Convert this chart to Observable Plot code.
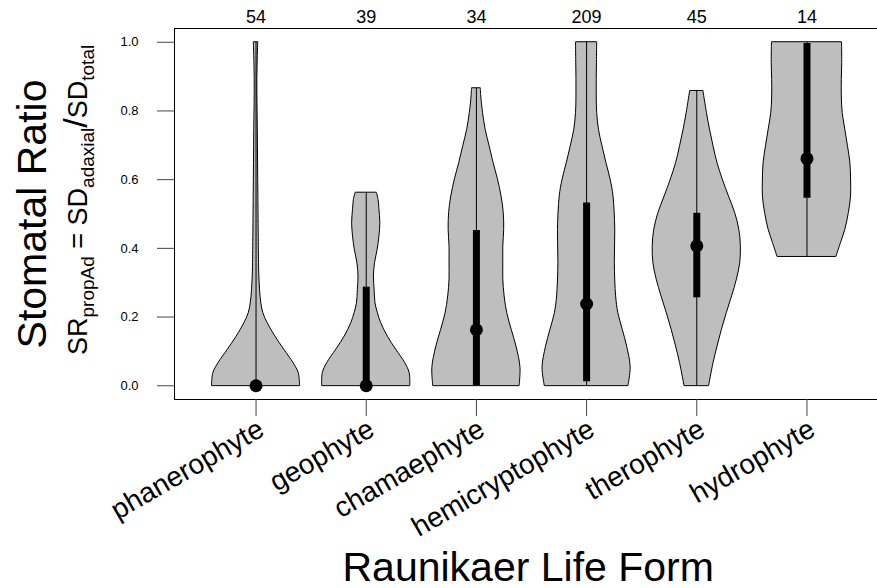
<!DOCTYPE html>
<html>
<head>
<meta charset="utf-8">
<script src="https://cdn.jsdelivr.net/npm/d3@7"></script>
<script src="https://cdn.jsdelivr.net/npm/@observablehq/plot@0.6"></script>
<style>
  html, body { margin: 0; padding: 0; background: white; }
  #chart { width: 877px; height: 588px; }
</style>
</head>
<body>
<div id="chart"></div>
<script>
// ---- data ----
const categories = ["phanerophyte", "geophyte", "chamaephyte", "hemicryptophyte", "therophyte", "hydrophyte"];
const counts = [54, 39, 34, 209, 45, 14];
const medians = [0, 0, 0.163, 0.238, 0.407, 0.661];
const q1 = [0, 0, 0, 0.012, 0.256, 0.546];
const q3 = [0, 0.287, 0.452, 0.532, 0.502, 0.996];
const mins = [0, 0, 0, 0, 0, 0.376];
const maxs = [1.0, 0.562, 0.866, 1.0, 0.858, 1.0];
const yTicks = [0, 0.2, 0.4, 0.6, 0.8, 1.0];

// density profiles: [value, relative half-width]
const phanerophyteDensity = [[0, 1.0], [0.037, 0.968], [0.066, 0.85], [0.105, 0.64], [0.143, 0.44], [0.182, 0.265], [0.211, 0.166], [0.24, 0.12], [0.279, 0.09], [0.318, 0.075], [0.357, 0.068], [0.55, 0.053], [0.745, 0.04], [0.89, 0.03], [1.0, 0.05]];
const geophyteDensity = [[0, 1.0], [0.037, 0.985], [0.066, 0.885], [0.105, 0.68], [0.143, 0.49], [0.182, 0.34], [0.211, 0.265], [0.24, 0.21], [0.279, 0.19], [0.318, 0.175], [0.357, 0.2], [0.396, 0.26], [0.435, 0.30], [0.474, 0.32], [0.512, 0.30], [0.541, 0.28], [0.562, 0.24]];
const chamaephyteDensity = [[0, 0.98], [0.052, 1.0], [0.114, 0.91], [0.163, 0.80], [0.211, 0.70], [0.26, 0.64], [0.309, 0.61], [0.357, 0.61], [0.406, 0.61], [0.454, 0.63], [0.503, 0.62], [0.551, 0.57], [0.60, 0.49], [0.648, 0.39], [0.697, 0.30], [0.745, 0.21], [0.794, 0.15], [0.842, 0.11], [0.866, 0.10]];
const hemicryptophyteDensity = [[0, 0.95], [0.053, 1.0], [0.114, 0.92], [0.163, 0.82], [0.211, 0.72], [0.26, 0.67], [0.357, 0.64], [0.454, 0.65], [0.551, 0.61], [0.60, 0.545], [0.648, 0.45], [0.697, 0.36], [0.745, 0.28], [0.794, 0.24], [0.842, 0.23], [0.89, 0.23], [0.94, 0.235], [1.0, 0.24]];
const therophyteDensity = [[0, 0.28], [0.066, 0.38], [0.114, 0.47], [0.163, 0.57], [0.211, 0.68], [0.26, 0.80], [0.309, 0.91], [0.357, 0.985], [0.406, 1.0], [0.454, 0.965], [0.503, 0.87], [0.551, 0.73], [0.60, 0.59], [0.648, 0.47], [0.697, 0.38], [0.745, 0.30], [0.794, 0.23], [0.858, 0.15]];
const hydrophyteDensity = [[0.376, 0.67], [0.415, 0.77], [0.454, 0.87], [0.503, 0.95], [0.551, 1.0], [0.60, 1.0], [0.648, 0.985], [0.697, 0.93], [0.745, 0.87], [0.794, 0.81], [0.842, 0.79], [0.89, 0.79], [0.94, 0.80], [1.0, 0.795]];

// ---- derived tables ----
const densities = [phanerophyteDensity, geophyteDensity, chamaephyteDensity, hemicryptophyteDensity, therophyteDensity, hydrophyteDensity];
const maxHalf = 0.4;
const violinRows = densities.flatMap((prof, i) =>
  prof.map(([y, w]) => ({cat: categories[i], y, x1: i + 1 - w * maxHalf, x2: i + 1 + w * maxHalf})));
const summary = categories.map((c, i) => ({
  cat: c, pos: i + 1, n: counts[i], med: medians[i], q1: q1[i], q3: q3[i], lo: mins[i], hi: maxs[i]
}));

const font = "Liberation Sans, Arial, Helvetica, sans-serif";

const chart = Plot.plot({
  width: 877,
  height: 588,
  marginLeft: 174,
  marginRight: 0,
  marginTop: 28,
  marginBottom: 189,
  style: {fontFamily: font, background: "white", color: "black", overflow: "visible"},
  x: {domain: [0.26, 6.64], axis: null},
  y: {domain: [-0.04, 1.04], axis: null},
  marks: [
    Plot.areaX(violinRows, {y: "y", x1: "x1", x2: "x2", z: "cat", fill: "#BEBEBE", stroke: "black", strokeWidth: 1, curve: "catmull-rom"}),
    Plot.ruleX(summary, {x: "pos", y1: "lo", y2: "hi", stroke: "black", strokeWidth: 1}),
    Plot.ruleX(summary, {x: "pos", y1: "q1", y2: "q3", stroke: "black", strokeWidth: 7}),
    Plot.dot(summary, {x: "pos", y: "med", r: 6.5, fill: "black", stroke: null}),
    // frame (right edge lies outside the picture)
    Plot.ruleY([-0.04, 1.04], {stroke: "black", strokeWidth: 1}),
    Plot.ruleX([0.26], {y1: -0.04, y2: 1.04, stroke: "black", strokeWidth: 1}),
    // axes
    Plot.axisY({ticks: yTicks, tickFormat: d3.format(".1f"), tickSize: 17, tickPadding: 19, fontSize: 13, label: null, stroke: "#444"}),
    Plot.axisX({ticks: summary.map(d => d.pos), tickSize: 17, tickFormat: () => "", label: null, stroke: "#444"}),
    // counts on top
    Plot.text(summary, {x: "pos", y: 1.04, text: d => String(d.n), fontSize: 18, lineAnchor: "bottom", dy: -5.5}),
    // category labels
    Plot.text(summary, {x: "pos", y: -0.04, text: "cat", fontSize: 28, rotate: -30, textAnchor: "end", lineAnchor: "bottom", dx: 10, dy: 35}),
    // axis titles
    Plot.text(["Stomatal Ratio"], {frameAnchor: "left", dx: -129, rotate: -90, fontSize: 41, textAnchor: "middle", lineAnchor: "bottom", text: d => d}),
    Plot.text(["Raunikaer Life Form"], {x: [3.47], frameAnchor: "bottom", dy: 181, fontSize: 41, lineAnchor: "bottom", text: d => d})
  ]
});

document.getElementById("chart").appendChild(chart);

// y-axis formula subtitle with subscripts
const svg = d3.select(chart);
const t = svg.append("text")
  .attr("transform", "translate(87,355) rotate(-90)")
  .attr("text-anchor", "start")
  .attr("font-family", font)
  .attr("font-size", 27)
  .attr("fill", "black");
const parts = [
  ["SR", false], ["propAd", true], [" = SD", false], ["adaxial", true], ["/", false], ["SD", false], ["total", true]
];
let shifted = false;
for (const [s, sub] of parts) {
  const ts = t.append("tspan").text(s);
  if (sub && !shifted) { ts.attr("dy", 7).attr("font-size", 19); shifted = true; }
  else if (sub) { ts.attr("font-size", 19); }
  else if (!sub && shifted) { ts.attr("dy", -7); shifted = false; }
  if (s === "/") ts.attr("font-size", 34);
}
</script>
</body>
</html>
